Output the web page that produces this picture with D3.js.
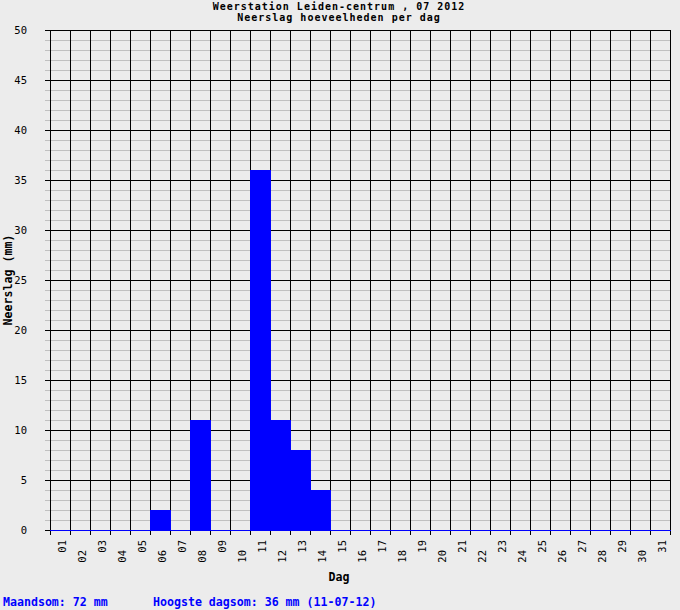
<!DOCTYPE html>
<html>
<head>
<meta charset="utf-8">
<script src="https://cdn.jsdelivr.net/npm/d3@7.9.0/dist/d3.min.js"></script>
<style>
  body { margin: 0; background: #ececec; }
  svg { display: block; }
  text { font-family: "DejaVu Sans Mono", "Liberation Mono", monospace; }
</style>
</head>
<body>
<svg id="chart" width="680" height="610"></svg>
<script>
// July 2012 daily rainfall, Leiden-centrum
const days = d3.range(1, 32).map(d => String(d).padStart(2, '0'));
const rain = [0,0,0,0,0,2,0,11,0,0,36,11,8,4,0,0,0,0,0,0,0,0,0,0,0,0,0,0,0,0,0];
const yMajor = [0, 5, 10, 15, 20, 25, 30, 35, 40, 45, 50];
const titleLines = ["Weerstation Leiden-centrum , 07 2012", "Neerslag hoeveelheden per dag"];
const footer = ["Maandsom: 72 mm", "Hoogste dagsom: 36 mm (11-07-12)"];

const W = 680, H = 610;
const m = { left: 50, right: 10, top: 30, bottom: 80 };

const svg = d3.select("#chart");
svg.append("rect").attr("width", W).attr("height", H).attr("fill", "#ececec");

const x = d3.scaleBand().domain(days).range([m.left, W - m.right]).paddingInner(0).paddingOuter(0);
const y = d3.scaleLinear().domain([0, 50]).range([H - m.bottom, m.top]);

const grid = svg.append("g").attr("shape-rendering", "crispEdges");

// minor horizontal lines every 1 mm
grid.selectAll("line.minor")
  .data(d3.range(1, 50).filter(v => v % 5 !== 0))
  .enter().append("line")
  .attr("x1", m.left - 5).attr("x2", W - m.right)
  .attr("y1", d => y(d) + 0.5).attr("y2", d => y(d) + 0.5)
  .attr("stroke", "#c0c0c0");

// bars
svg.append("g").attr("shape-rendering", "crispEdges")
  .selectAll("rect")
  .data(rain.map((v, i) => ({ day: days[i], v })))
  .enter().append("rect")
  .attr("x", d => x(d.day))
  .attr("width", x.bandwidth() + 1)
  .attr("y", d => y(d.v))
  .attr("height", d => y(0) - y(d.v))
  .attr("fill", "#0000ff");

const grid2 = svg.append("g").attr("shape-rendering", "crispEdges");

// vertical lines between days (drawn where there is no bar)
const edges = days.map(d => x(d)).concat([x(days[days.length - 1]) + x.bandwidth()]);
edges.forEach((ex, i) => {
  const hL = i > 0 ? rain[i - 1] : 0;
  const hR = i < rain.length ? rain[i] : 0;
  const top = Math.max(hL, hR);
  grid2.append("line")
    .attr("x1", ex + 0.5).attr("x2", ex + 0.5)
    .attr("y1", m.top).attr("y2", y(top))
    .attr("stroke", "#000");
  grid2.append("line")
    .attr("x1", ex + 0.5).attr("x2", ex + 0.5)
    .attr("y1", y(0)).attr("y2", y(0) + 5)
    .attr("stroke", "#000");
});

// major horizontal lines, broken by bars
yMajor.filter(v => v > 0).forEach(v => {
  const yy = y(v) + 0.5;
  let start = m.left - 5;
  rain.forEach((r, i) => {
    if (r >= v) {
      const bx = x(days[i]);
      if (bx > start) grid2.append("line").attr("x1", start).attr("x2", bx).attr("y1", yy).attr("y2", yy).attr("stroke", "#000");
      start = bx + x.bandwidth() + 1;
    }
  });
  grid2.append("line").attr("x1", start).attr("x2", W - m.right + 1).attr("y1", yy).attr("y2", yy).attr("stroke", "#000");
});

// zero line
grid2.append("line").attr("x1", m.left - 5).attr("x2", m.left).attr("y1", y(0) + 0.5).attr("y2", y(0) + 0.5).attr("stroke", "#000");
grid2.append("line").attr("x1", m.left).attr("x2", W - m.right + 1).attr("y1", y(0) + 0.5).attr("y2", y(0) + 0.5).attr("stroke", "#0000ff");

// y tick labels
svg.append("g").selectAll("text")
  .data(yMajor)
  .enter().append("text")
  .attr("x", 27).attr("y", d => y(d) + 4)
  .attr("text-anchor", "end")
  .attr("font-size", "10.5px")
  .attr("fill", "#000")
  .text(d => d);

// x tick labels, rotated, staggered
svg.append("g").selectAll("text")
  .data(days)
  .enter().append("text")
  .attr("transform", (d, i) => `translate(${x(d) + x.bandwidth() / 2 + 6},${i % 2 === 0 ? 540 : 550}) rotate(-90)`)
  .attr("text-anchor", "end")
  .attr("font-size", "10.5px")
  .attr("fill", "#000")
  .text(d => d);

// titles
svg.append("g").selectAll("text")
  .data(titleLines)
  .enter().append("text")
  .attr("x", 339).attr("y", (d, i) => 10 + i * 11)
  .attr("text-anchor", "middle")
  .attr("font-size", "10px").attr("font-weight", "bold")
  .attr("letter-spacing", "1px")
  .text(d => d);

svg.append("text")
  .attr("transform", `translate(12,${y(25)}) rotate(-90)`)
  .attr("text-anchor", "middle")
  .attr("font-size", "11.6px").attr("font-weight", "bold")
  .text("Neerslag (mm)");

svg.append("text")
  .attr("x", 339).attr("y", 581)
  .attr("text-anchor", "middle")
  .attr("font-size", "11.6px").attr("font-weight", "bold")
  .text("Dag");

svg.append("g").selectAll("text")
  .data(footer)
  .enter().append("text")
  .attr("x", (d, i) => i === 0 ? 3 : 153).attr("y", 606)
  .attr("font-size", "11.6px").attr("font-weight", "bold")
  .attr("fill", "#0000ff")
  .text(d => d);
</script>
</body>
</html>
